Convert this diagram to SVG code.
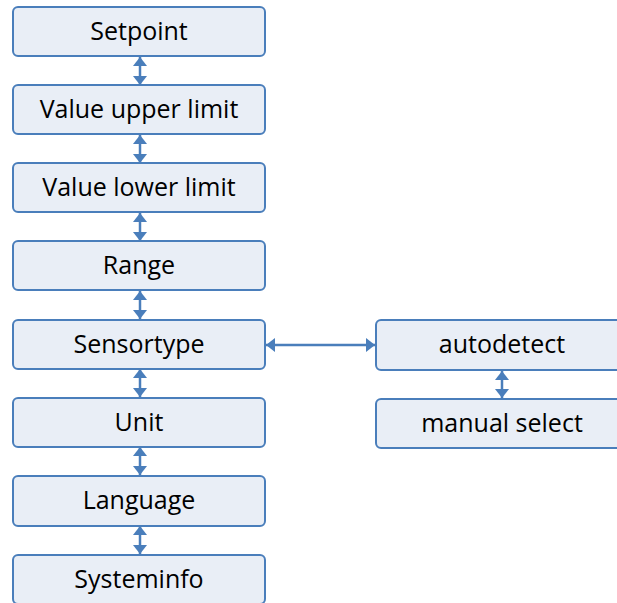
<svg xmlns="http://www.w3.org/2000/svg" width="617" height="603" viewBox="0 0 617 603">
<defs>
<style>
.box{fill:#E9EEF6;stroke:#4A7EBB;stroke-width:2}
.t{font-family:"Open Sans","Liberation Sans",sans-serif;font-size:25px;fill:#000;text-anchor:middle}
.c{stroke:#4A7EBB;stroke-width:2.5;fill:none}
</style>
<marker id="ah" viewBox="0 0 9 14" refX="9" refY="7" markerWidth="9" markerHeight="14" orient="auto-start-reverse" markerUnits="userSpaceOnUse">
<path d="M0,0 L9,7 L0,14 z" fill="#4A7EBB"/>
</marker>
</defs>
<rect width="617" height="603" fill="#fff"/>
<g id="connectors">
<line class="c" x1="140" y1="57" x2="140" y2="85" marker-start="url(#ah)" marker-end="url(#ah)"/>
<line class="c" x1="140" y1="135" x2="140" y2="163" marker-start="url(#ah)" marker-end="url(#ah)"/>
<line class="c" x1="140" y1="213" x2="140" y2="241" marker-start="url(#ah)" marker-end="url(#ah)"/>
<line class="c" x1="140" y1="291" x2="140" y2="319" marker-start="url(#ah)" marker-end="url(#ah)"/>
<line class="c" x1="140" y1="369" x2="140" y2="397" marker-start="url(#ah)" marker-end="url(#ah)"/>
<line class="c" x1="140" y1="447" x2="140" y2="475" marker-start="url(#ah)" marker-end="url(#ah)"/>
<line class="c" x1="140" y1="526" x2="140" y2="554" marker-start="url(#ah)" marker-end="url(#ah)"/>
<line class="c" x1="266" y1="345" x2="375" y2="345" marker-start="url(#ah)" marker-end="url(#ah)"/>
<line class="c" x1="502" y1="371" x2="502" y2="398" marker-start="url(#ah)" marker-end="url(#ah)"/>
</g>
<g id="setpoint"><rect class="box" x="13" y="7" width="252" height="49" rx="5"/><text class="t" x="139" y="40">Setpoint</text></g>
<g id="upper"><rect class="box" x="13" y="85" width="252" height="49" rx="5"/><text class="t" x="139" y="118">Value upper limit</text></g>
<g id="lower"><rect class="box" x="13" y="163" width="252" height="49" rx="5"/><text class="t" x="139" y="196">Value lower limit</text></g>
<g id="range"><rect class="box" x="13" y="241" width="252" height="49" rx="5"/><text class="t" x="139" y="274">Range</text></g>
<g id="sensortype"><rect class="box" x="13" y="320" width="252" height="49" rx="5"/><text class="t" x="139" y="353">Sensortype</text></g>
<g id="unit"><rect class="box" x="13" y="398" width="252" height="49" rx="5"/><text class="t" x="139" y="431">Unit</text></g>
<g id="language"><rect class="box" x="13" y="476" width="252" height="50" rx="5"/><text class="t" x="139" y="509">Language</text></g>
<g id="systeminfo"><rect class="box" x="13" y="555" width="252" height="49" rx="5"/><text class="t" x="139" y="588">Systeminfo</text></g>
<g id="autodetect"><rect class="box" x="376" y="320" width="252" height="50" rx="5"/><text class="t" x="502" y="353">autodetect</text></g>
<g id="manual"><rect class="box" x="376" y="399" width="252" height="49" rx="5"/><text class="t" x="502" y="432">manual select</text></g>
</svg>
